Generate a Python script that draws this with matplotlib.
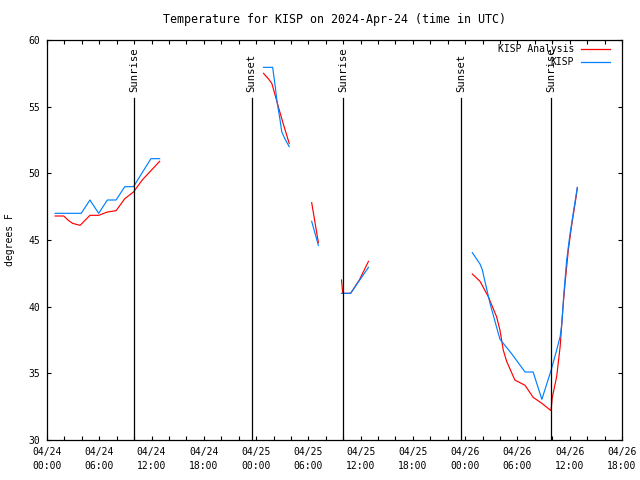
import numpy as np
import pandas as pd
import matplotlib
matplotlib.use("Agg")
import matplotlib.pyplot as plt
import matplotlib.dates as mdates

plt.rcParams['font.family'] = ['DejaVu Sans Mono']
plt.rcParams['font.size'] = 7

# hours after 2024-04-24 00:00 UTC, NaN splits the gaps
obs_hours = [0.93, 1.93, 2.93, 3.93, 4.93, 5.93, 6.93, 7.93, 8.93, 9.93, 10.93, 11.93, 12.93, np.nan,
             24.85, 25.9, 26.2, 26.4, 26.75, 26.95, 27.3, 27.8, np.nan,
             30.38, 31.15, np.nan,
             33.8, 34.85, 36.9, np.nan,
             48.82, 49.7, 49.95, 50.85, 51.8, 52.0, 53.3, 54.87, 55.8, 56.8, 57.85,
             58.5, 58.9, 59.1, 59.3, 59.65, 60.0, 60.4, 60.87]
obs_temp = [47.0, 47.0, 47.0, 47.0, 48.0, 47.0, 48.0, 48.0, 49.0, 49.0, 50.05, 51.1, 51.1, np.nan,
            57.95, 57.95, 56.5, 55.4, 54.0, 53.1, 52.6, 52.0, np.nan,
            46.4, 44.6, np.nan,
            41.0, 41.0, 42.95, np.nan,
            44.05, 43.2, 42.8, 40.25, 38.0, 37.55, 36.5, 35.1, 35.1, 33.05, 35.2,
            36.75, 37.75, 38.75, 40.75, 43.5, 45.3, 47.0, 48.95]

ana_hours = [0.93, 1.93, 2.4, 2.93, 3.8, 4.93, 5.93, 6.93, 7.93, 8.93, 9.93, 10.93, 11.93, 12.93, np.nan,
             24.85, 25.4, 25.8, 26.17, 26.55, 27.1, 27.8, np.nan,
             30.38, 31.15, np.nan,
             33.8, 33.95, 34.85, 35.85, 36.9, np.nan,
             48.82, 49.7, 50.2, 50.65, 51.6, 51.99, 52.37, 52.76, 53.7, 54.87, 55.8, 56.8, 57.85,
             58.0, 58.5, 58.9, 59.2, 59.46, 59.84, 60.2, 60.7, 60.87]
ana_temp = [46.8, 46.8, 46.5, 46.25, 46.1, 46.85, 46.85, 47.1, 47.2, 48.1, 48.6, 49.5, 50.2, 50.9, np.nan,
            57.5, 57.1, 56.75, 55.9, 55.0, 53.75, 52.25, np.nan,
            47.8, 44.8, np.nan,
            42.0, 41.0, 41.0, 42.0, 43.4, np.nan,
            42.45, 41.9, 41.3, 40.75, 39.25, 38.25, 36.75, 35.9, 34.5, 34.1, 33.2, 32.75, 32.2,
            33.2, 34.75, 37.0, 39.75, 41.75, 44.25, 46.0, 48.1, 48.9]

sun_hours = [10.0, 23.5, 34.0, 47.5, 57.9]
sun_labels = ['Sunrise', 'Sunset', 'Sunrise', 'Sunset', 'Sunrise']

names = ['KISP Analysis', 'KISP']
colors = ['#ff0000', '#0080ff']

start = mdates.date2num(pd.Timestamp('2024-04-24 00:00'))
def to_time(h):
    return start + np.asarray(h, dtype=float) / 24.0

fig = plt.figure(figsize=(6.4, 4.8), dpi=100)
ax = fig.add_axes([47 / 640, 40 / 480, 575 / 640, 400 / 480])

ax.plot(to_time(ana_hours), ana_temp, color=colors[0], lw=0.85)
ax.plot(to_time(obs_hours), obs_temp, color=colors[1], lw=0.85)

for t, lab in zip(to_time(sun_hours), sun_labels):
    ax.plot([t, t], [30, 55.65], color='black', lw=0.9)
    ax.text(t, 56.1, lab, rotation=90, ha='center', va='bottom', fontsize=7.6)

ax.xaxis_date()
ax.set_xlim(to_time([0])[0], to_time([66])[0])
ax.set_ylim(30, 60)
ax.set_yticks(np.arange(30, 61, 5))
ax.xaxis.set_major_locator(mdates.HourLocator(byhour=[0, 6, 12, 18]))
ax.xaxis.set_minor_locator(mdates.HourLocator(byhour=range(0, 24, 2)))
ax.xaxis.set_major_formatter(mdates.DateFormatter('%m/%d\n%H:%M'))
ax.tick_params(which='both', direction='in', length=3, width=0.8, top=True, right=True)
ax.tick_params(axis='x', pad=5)
ax.tick_params(axis='y', pad=5)
for t in ax.get_xticklabels():
    t.set_linespacing(1.55)
for s in ax.spines.values():
    s.set_linewidth(0.9)

ax.set_title('Temperature for KISP on 2024-Apr-24 (time in UTC)', pad=12)
fig.text(10 / 640, 0.5, 'degrees F', rotation=90, ha='center', va='center')

# legend in gnuplot style: right aligned text, sample line on the right
for i, (name, c) in enumerate(zip(names, colors)):
    y = 0.9775 - i * 0.0325
    ax.text(0.9165, y, name, transform=ax.transAxes, ha='right', va='center')
    ax.plot([0.9287, 0.979], [y, y], color=c, lw=0.9, transform=ax.transAxes)

fig.savefig('out.png', dpi=100)
